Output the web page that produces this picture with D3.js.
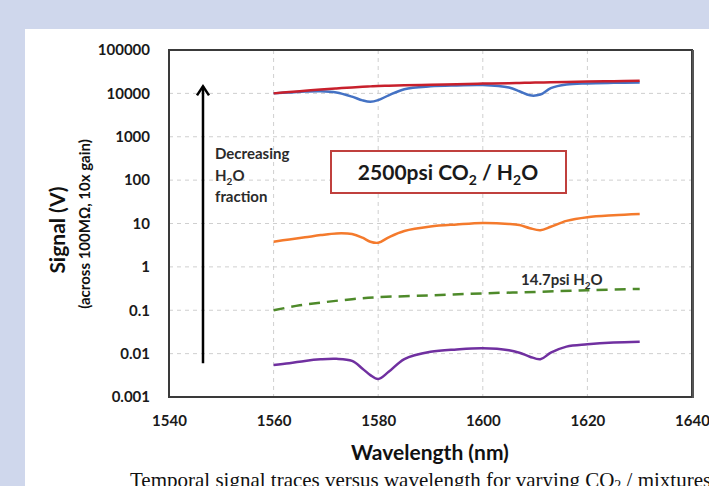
<!DOCTYPE html>
<html>
<head>
<meta charset="utf-8">
<script src="https://cdn.jsdelivr.net/npm/d3@7"></script>
<style>
  body { margin: 0; background: #cfd7ec; }
  svg { display: block; }
</style>
</head>
<body>
<div id="chart"></div>
<script>
// wavelength samples (nm)
const wavelengths = [1560, 1563, 1566, 1569, 1572, 1575, 1577, 1578.5, 1580, 1582, 1585, 1590,
  1595, 1600, 1605, 1607, 1609, 1611, 1613, 1616, 1620, 1625, 1630];

// signal values (V), one per wavelength
const redSeries = [10000, 10800, 11500, 12300, 13000, 13700, 14200, 14500, 14800, 15000, 15300, 15800,
  16300, 16800, 17200, 17400, 17600, 17800, 18000, 18300, 18700, 19100, 19500];
const blueSeries = [10000, 10500, 11000, 11200, 10500, 8400, 6900, 6400, 7000, 9000, 12500, 14500,
  15200, 15500, 13600, 11200, 9000, 9400, 13200, 16000, 17000, 17500, 17800];
const orangeSeries = [3.8, 4.3, 4.8, 5.4, 5.9, 5.7, 4.7, 3.8, 3.6, 4.8, 6.7, 8.5,
  9.5, 10.3, 9.8, 9.2, 7.8, 7.0, 8.4, 11.5, 14, 15.5, 16.5];
const purpleSeries = [0.0055, 0.006, 0.0068, 0.0074, 0.0076, 0.0068, 0.0045, 0.0032, 0.0026, 0.0038, 0.0075, 0.011,
  0.0125, 0.0133, 0.012, 0.0105, 0.0085, 0.0074, 0.0105, 0.0145, 0.0164, 0.018, 0.0188];

// 14.7psi H2O reference trace
const greenWavelengths = [1560, 1565, 1570, 1575, 1580, 1590, 1600, 1610, 1620, 1630];
const greenSeries = [0.1, 0.13, 0.155, 0.18, 0.2, 0.22, 0.245, 0.265, 0.29, 0.31];

const xTicks = [1540, 1560, 1580, 1600, 1620, 1640];
const yTicks = [0.001, 0.01, 0.1, 1, 10, 100, 1000, 10000, 100000];
const yTickLabels = ["0.001", "0.01", "0.1", "1", "10", "100", "1000", "10000", "100000"];

const W = 709, H = 486;
const font = "Lato, 'Open Sans', sans-serif";

const svg = d3.select("#chart")
  .append("svg")
  .attr("width", W)
  .attr("height", H);

// white card on the slide
svg.append("rect")
  .attr("x", 25).attr("y", 29)
  .attr("width", W - 25).attr("height", H - 29)
  .attr("fill", "#ffffff");

const x = d3.scaleLinear().domain([1540, 1640]).range([169, 692]);
const y = d3.scaleLog().domain([0.001, 100000]).range([397, 50]);

// grid lines
svg.append("g")
  .selectAll("line")
  .data(xTicks.slice(1, -1))
  .join("line")
  .attr("x1", d => x(d)).attr("x2", d => x(d))
  .attr("y1", y(100000)).attr("y2", y(0.001))
  .attr("stroke", "#cfcfcf")
  .attr("stroke-dasharray", "4,4");

svg.append("g")
  .selectAll("line")
  .data(yTicks.slice(1, -1))
  .join("line")
  .attr("x1", x(1540)).attr("x2", x(1640))
  .attr("y1", d => y(d)).attr("y2", d => y(d))
  .attr("stroke", "#cfcfcf")
  .attr("stroke-dasharray", "4,4");

// axes (labels only)
const xAxis = svg.append("g")
  .attr("transform", `translate(0, ${y(0.001)})`)
  .call(d3.axisBottom(x).tickValues(xTicks).tickFormat(d3.format("d")).tickSize(0).tickPadding(18));
const yAxis = svg.append("g")
  .attr("transform", `translate(${x(1540)}, 0)`)
  .call(d3.axisLeft(y).tickValues(yTicks).tickFormat((d, i) => yTickLabels[i]).tickSize(0).tickPadding(19));
[xAxis, yAxis].forEach(a => {
  a.select(".domain").remove();
  a.selectAll("text")
    .attr("fill", "#1a1a1a")
    .style("font-family", font)
    .style("font-weight", "bold")
    .style("font-size", "15px");
});

// plot frame
svg.append("rect")
  .attr("x", x(1540)).attr("y", y(100000))
  .attr("width", x(1640) - x(1540))
  .attr("height", y(0.001) - y(100000))
  .attr("fill", "none")
  .attr("stroke", "#3a3a3a")
  .attr("stroke-width", 2);
svg.append("line")
  .attr("x1", x(1640) + 1).attr("x2", x(1640) + 1)
  .attr("y1", y(100000)).attr("y2", y(0.001) + 1)
  .attr("stroke", "#555").attr("stroke-width", 2);

// traces
const line = d3.line()
  .x(d => x(d[0]))
  .y(d => y(d[1]))
  .curve(d3.curveCatmullRom.alpha(0.5));

const traces = [
  { wl: greenWavelengths, v: greenSeries, color: "#4e8a2a", dash: "11,7" },
  { wl: wavelengths, v: purpleSeries, color: "#7030a0" },
  { wl: wavelengths, v: orangeSeries, color: "#f47a2c" },
  { wl: wavelengths, v: blueSeries, color: "#4472c4" },
  { wl: wavelengths, v: redSeries, color: "#c8202c" }
];

svg.append("g")
  .selectAll("path")
  .data(traces)
  .join("path")
  .attr("d", t => line(t.wl.map((w, i) => [w, t.v[i]])))
  .attr("fill", "none")
  .attr("stroke", t => t.color)
  .attr("stroke-width", 2.5)
  .attr("stroke-dasharray", t => t.dash || null)
  .attr("stroke-linejoin", "round");

// arrow "decreasing H2O fraction"
const ax = x(1546.5);
svg.append("line")
  .attr("x1", ax).attr("x2", ax)
  .attr("y1", y(0.006)).attr("y2", y(14500))
  .attr("stroke", "#000").attr("stroke-width", 2.5);
svg.append("path")
  .attr("d", `M${ax - 6},${y(14500) + 9} L${ax},${y(14500)} L${ax + 6},${y(14500) + 9}`)
  .attr("fill", "none").attr("stroke", "#000").attr("stroke-width", 2.5);

const note = svg.append("text")
  .attr("fill", "#2b2b2b")
  .style("font-family", font).style("font-weight", "bold").style("font-size", "15px");
note.append("tspan").attr("x", 215).attr("y", 159).text("Decreasing");
const h2o = note.append("tspan").attr("x", 215).attr("y", 181).text("H");
h2o.append("tspan").attr("dy", 4).style("font-size", "10px").text("2");
h2o.append("tspan").attr("dy", -4).text("O");
note.append("tspan").attr("x", 215).attr("y", 202).text("fraction");

// boxed title
svg.append("rect")
  .attr("x", 331).attr("y", 151)
  .attr("width", 235).attr("height", 42)
  .attr("fill", "#fff")
  .attr("stroke", "#c0403d").attr("stroke-width", 2);
const title = svg.append("text")
  .attr("x", 448).attr("y", 180)
  .attr("text-anchor", "middle")
  .attr("fill", "#1a1a1a")
  .style("font-family", font).style("font-weight", "bold").style("font-size", "21px");
title.append("tspan").text("2500psi CO");
title.append("tspan").attr("dy", 5).style("font-size", "14px").text("2");
title.append("tspan").attr("dy", -5).text(" / H");
title.append("tspan").attr("dy", 5).style("font-size", "14px").text("2");
title.append("tspan").attr("dy", -5).text("O");

// green trace label
const gl = svg.append("text")
  .attr("x", 521).attr("y", 285)
  .attr("fill", "#2b2b2b")
  .style("font-family", font).style("font-weight", "bold").style("font-size", "15px");
gl.append("tspan").text("14.7psi H");
gl.append("tspan").attr("dy", 4).style("font-size", "10px").text("2");
gl.append("tspan").attr("dy", -4).text("O");

// axis titles
svg.append("text")
  .attr("x", 430).attr("y", 460)
  .attr("text-anchor", "middle")
  .attr("fill", "#111")
  .style("font-family", font).style("font-weight", "bold").style("font-size", "21px")
  .text("Wavelength (nm)");

svg.append("text")
  .attr("transform", "translate(65, 230) rotate(-90)")
  .attr("text-anchor", "middle")
  .attr("fill", "#111")
  .style("font-family", font).style("font-weight", "bold").style("font-size", "21px")
  .text("Signal (V)");

svg.append("text")
  .attr("transform", "translate(90, 224) rotate(-90)")
  .attr("text-anchor", "middle")
  .attr("fill", "#111")
  .style("font-family", font).style("font-weight", "bold").style("font-size", "15px")
  .text("(across 100MΩ, 10x gain)");

// figure caption, runs off the page edge as in the source slide
const cap = svg.append("text")
  .attr("x", 130).attr("y", 487)
  .attr("fill", "#111")
  .style("font-family", "'Liberation Serif', 'DejaVu Serif', serif").style("font-size", "21px")
  .text("Temporal signal traces versus wavelength for varying CO");
cap.append("tspan").attr("dy", 3).style("font-size", "14px").text("2");
cap.append("tspan").attr("dy", -3).text(" / mixtures");
</script>
</body>
</html>
